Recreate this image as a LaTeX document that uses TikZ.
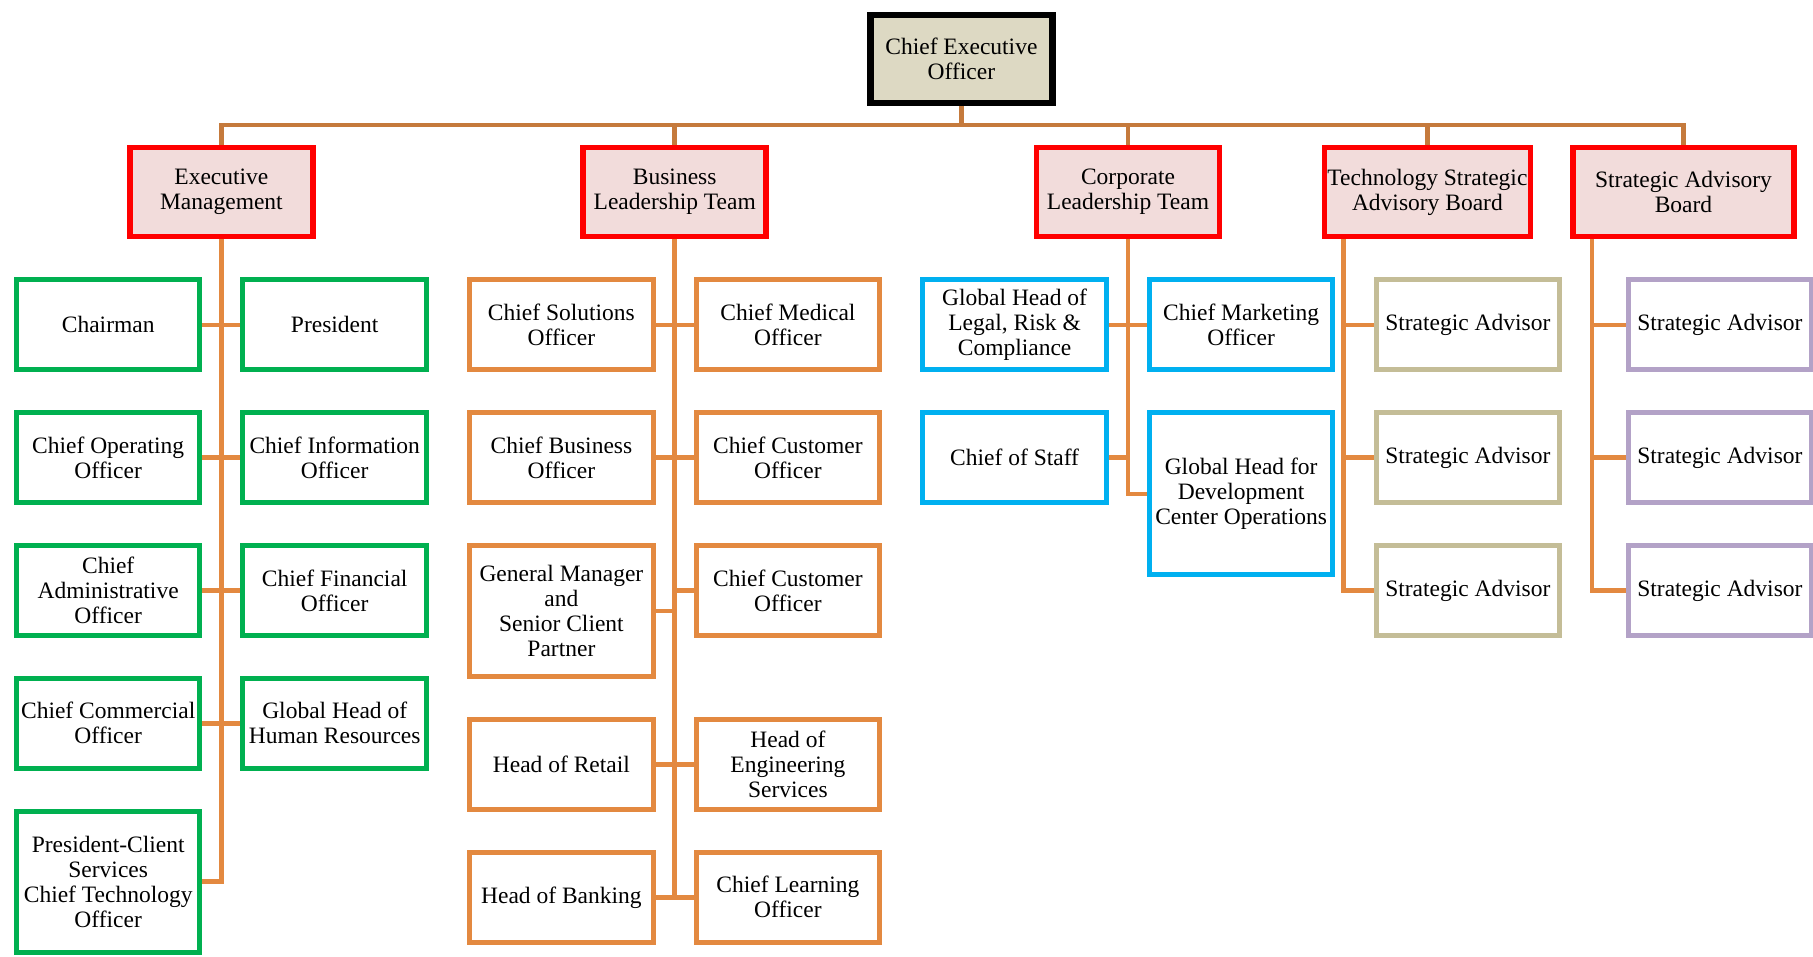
\documentclass[tikz,border=0pt]{standalone}
\usepackage{fontspec}
\setmainfont{Liberation Serif}
\usetikzlibrary{positioning}
\definecolor{ceofill}{RGB}{221,217,195}
\definecolor{boardfill}{RGB}{242,220,219}
\definecolor{boardred}{RGB}{255,0,0}
\definecolor{emgreen}{RGB}{0,176,80}
\definecolor{bltorange}{RGB}{227,137,64}
\definecolor{cltblue}{RGB}{0,176,240}
\definecolor{tsabtan}{RGB}{196,189,151}
\definecolor{sabpurple}{RGB}{179,162,199}
\definecolor{buscol}{RGB}{197,122,60}
\definecolor{linkcol}{RGB}{227,137,64}
\tikzset{
    role/.style={
           rectangle,
           draw=black, line width=5pt,
           minimum width=183.5pt,
           minimum height=89.8pt,
           inner sep=2pt,
           align=center,
           font=\fontsize{23.5}{25}\selectfont,
           },
    board/.style={
           role,
           draw=boardred, line width=5.5pt,
           fill=boardfill,
           minimum width=183pt,
           minimum height=89.3pt,
           },
    top/.style={
           role,
           draw=black, line width=6.5pt,
           fill=ceofill,
           minimum width=182pt,
           minimum height=88.3pt,
           },
    bus/.style={draw=buscol, line width=4.5pt},
    link/.style={draw=linkcol, line width=4.5pt},
}
\begin{document}
\begin{tikzpicture}[x=1pt, y=-1pt, node distance=38pt]
      \useasboundingbox (0,0) rectangle (1813,957);
      \node[top] (ceo) at (961.4,59) {Chief Executive\\Officer};
      \node[board] (em) at (221.4,192) {Executive\\Management};
      \node[board] (blt) at (674.7,192) {Business\\Leadership Team};
      \node[board] (clt) at (1128,192) {Corporate\\Leadership Team};
      \node[board, minimum width=206.1pt] (tsab) at (1427.4,192) {Technology Strategic\\Advisory Board};
      \node[board, minimum width=221.1pt] (sab) at (1683.5,192) {Strategic Advisory\\Board};

      % executive management
      \node[role, draw=emgreen] (em_1) at (108.2,324.9) {Chairman};
      \node[role, draw=emgreen] (em_2) [right=of em_1] {President};
      \node[role, draw=emgreen] (em_3) [below=of em_1] {Chief Operating\\Officer};
      \node[role, draw=emgreen] (em_4) [right=of em_3] {Chief Information\\Officer};
      \node[role, draw=emgreen] (em_5) [below=of em_3] {Chief\\Administrative\\Officer};
      \node[role, draw=emgreen] (em_6) [right=of em_5] {Chief Financial\\Officer};
      \node[role, draw=emgreen] (em_7) [below=of em_5] {Chief Commercial\\Officer};
      \node[role, draw=emgreen] (em_8) [right=of em_7] {Global Head of\\Human Resources};
      \node[role, draw=emgreen, minimum height=141pt] (em_9) [below=of em_7] {President-Client\\Services\\Chief Technology\\Officer};

      % business leadership team
      \node[role, draw=bltorange] (blt_1) at (561.4,324.9) {Chief Solutions\\Officer};
      \node[role, draw=bltorange] (blt_2) [right=of blt_1] {Chief Medical\\Officer};
      \node[role, draw=bltorange] (blt_3) [below=of blt_1] {Chief Business\\Officer};
      \node[role, draw=bltorange] (blt_4) [right=of blt_3] {Chief Customer\\Officer};
      \node[role, draw=bltorange, minimum height=131pt] (blt_5) [below=of blt_3] {General Manager\\and\\Senior Client\\Partner};
      \node[role, draw=bltorange] (blt_6) [below=of blt_4] {Chief Customer\\Officer};
      \node[role, draw=bltorange] (blt_7) [below=of blt_5] {Head of Retail};
      \node[role, draw=bltorange] (blt_8) [right=of blt_7] {Head of\\Engineering\\Services};
      \node[role, draw=bltorange] (blt_9) [below=of blt_7] {Head of Banking};
      \node[role, draw=bltorange] (blt_10) [right=of blt_9] {Chief Learning\\Officer};

      % corporate leadership team
      \node[role, draw=cltblue] (clt_1) at (1014.6,324.9) {Global Head of\\Legal, Risk \&\\Compliance};
      \node[role, draw=cltblue] (clt_2) [right=of clt_1] {Chief Marketing\\Officer};
      \node[role, draw=cltblue] (clt_3) [below=of clt_1] {Chief of Staff};
      \node[role, draw=cltblue, minimum height=162pt] (clt_4) [below=of clt_2] {Global Head for\\Development\\Center Operations};

      % advisory boards
      \node[role, draw=tsabtan] (tsab_1) at (1467.8,324.9) {Strategic Advisor};
      \node[role, draw=tsabtan] (tsab_2) [below=of tsab_1] {Strategic Advisor};
      \node[role, draw=tsabtan] (tsab_3) [below=of tsab_2] {Strategic Advisor};
      \node[role, draw=sabpurple] (sab_1) at (1719.9,324.9) {Strategic Advisor};
      \node[role, draw=sabpurple] (sab_2) [below=of sab_1] {Strategic Advisor};
      \node[role, draw=sabpurple] (sab_3) [below=of sab_2] {Strategic Advisor};
      \coordinate (tsab_t) at ([xshift=22pt]tsab.south west);
      \coordinate (sab_t) at ([xshift=22pt]sab.south west);

      \foreach \b in {em,blt,clt,tsab,sab}
          \draw[bus] (ceo.south) -- ++(0,18.6) -| (\b);
      \foreach \i in {1,...,9}
          \draw[link] (em) |- (em_\i);
      \foreach \i in {1,...,10}
          \draw[link] (blt) |- (blt_\i);
      \foreach \i in {1,...,4}
          \draw[link] (clt) |- (clt_\i);
      \foreach \i in {1,2,3}
          \draw[link] (tsab_t) |- (tsab_\i)
                      (sab_t) |- (sab_\i);
\end{tikzpicture}
\end{document}
